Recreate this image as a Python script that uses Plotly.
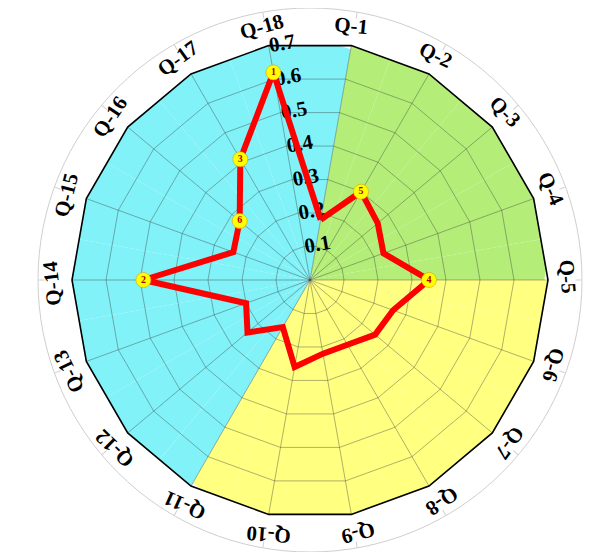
import math
import plotly.graph_objects as go

# ---------------- data ----------------
categories = [f"Q-{i}" for i in range(1, 19)]
values = [0.18, 0.30, 0.26, 0.23, 0.35, 0.26, 0.25, 0.22, 0.22,
          0.26, 0.16, 0.24, 0.20, 0.49, 0.24, 0.27, 0.41, 0.62]
rank_categories = ["Q-18", "Q-14", "Q-17", "Q-5", "Q-2", "Q-16"]
rank_labels = ["1", "2", "3", "4", "5", "6"]
radial_ticks = [0.1, 0.2, 0.3, 0.4, 0.5, 0.6, 0.7]
radial_tick_text = ["0.1", "0.2", "0.3", "0.4", "0.5", "0.6", "0.7"]
r_max = 0.7

# background sectors (category units): green Q-1..Q-5, yellow Q-5..Q-11, cyan Q-11..Q-1
green_theta = ["Q-1", "Q-2", "Q-3", "Q-4", "Q-5"]
green_width = [0.5, 1, 1, 1, 0.5]
green_offset = [0, -0.5, -0.5, -0.5, -0.5]
yellow_theta = ["Q-5", "Q-6", "Q-7", "Q-8", "Q-9", "Q-10", "Q-11"]
yellow_width = [0.5, 1, 1, 1, 1, 1, 0.5]
yellow_offset = [0, -0.5, -0.5, -0.5, -0.5, -0.5, -0.5]
cyan_theta = ["Q-11", "Q-12", "Q-13", "Q-14", "Q-15", "Q-16", "Q-17", "Q-18", "Q-1"]
cyan_width = [0.5, 1, 1, 1, 1, 1, 1, 1, 0.5]
cyan_offset = [0, -0.5, -0.5, -0.5, -0.5, -0.5, -0.5, -0.5, -0.5]

GREEN = "#B4EE78"
YELLOW = "#FFFF80"
CYAN = "#80F2F8"

serif = "Liberation Serif"
FS = 21  # font size of category labels

rank_values = [values[categories.index(c)] for c in rank_categories]

# geometry (pixels, figure coordinates; the page adds an 8px body margin)
W, H = 606, 552
cx, cy = 302, 272
R = 238          # polygon radius
R_OUT = 272      # outer ring radius
R_LAB = 257      # radius of the category label centres

fig = go.Figure()

# outer ring helper (categories for tick marks)
fig.add_trace(go.Scatterpolar(
    r=[0] * len(categories), theta=categories, subplot="polar",
    mode="markers", marker=dict(opacity=0), hoverinfo="skip", showlegend=False))

# coloured sectors
for th, w, off, col in [(green_theta, green_width, green_offset, GREEN),
                        (yellow_theta, yellow_width, yellow_offset, YELLOW),
                        (cyan_theta, cyan_width, cyan_offset, CYAN)]:
    fig.add_trace(go.Barpolar(
        r=[r_max] * len(th), theta=th, width=w, offset=off, subplot="polar2",
        marker=dict(color=col, line=dict(width=0)), hoverinfo="skip",
        showlegend=False))

# data line
fig.add_trace(go.Scatterpolar(
    r=values + values[:1], theta=categories + categories[:1], subplot="polar3",
    mode="lines", line=dict(color="#FF0000", width=6), hoverinfo="skip",
    showlegend=False))

# rank markers
fig.add_trace(go.Scatterpolar(
    r=rank_values, theta=rank_categories, subplot="polar3",
    mode="markers+text", text=rank_labels, textposition="middle center",
    textfont=dict(family=serif, size=10, color="#B00000", weight="bold"),
    marker=dict(size=15, color="#FFFF00", line=dict(width=0.6, color="#E0A000")),
    hoverinfo="skip", showlegend=False))

common_ang = dict(type="category", categoryorder="array", categoryarray=categories,
                  tickvals=categories, direction="clockwise", rotation=80)

inner_x = [(cx - R) / W, (cx + R) / W]
inner_y = [(H - cy - R) / H, (H - cy + R) / H]
outer_x = [(cx - R_OUT) / W, (cx + R_OUT) / W]
outer_y = [max(0, (H - cy - R_OUT) / H), min(1, (H - cy + R_OUT) / H)]

layout = dict(
    width=W, height=H,
    margin=dict(l=0, r=0, t=0, b=0),
    paper_bgcolor="white",
    showlegend=False,
    polar=dict(
        domain=dict(x=outer_x, y=outer_y),
        bgcolor="rgba(0,0,0,0)",
        gridshape="circular",
        angularaxis=dict(**common_ang, showline=True, linecolor="#CFCFCF", linewidth=1,
                         showgrid=False, ticks="inside", ticklen=6,
                         tickcolor="#CFCFCF", tickwidth=1, showticklabels=False),
        radialaxis=dict(visible=False, range=[0, 1]),
    ),
    polar2=dict(
        domain=dict(x=inner_x, y=inner_y),
        bgcolor="rgba(0,0,0,0)",
        gridshape="linear",
        barmode="overlay",
        angularaxis=dict(**common_ang, showline=False, showgrid=False, ticks="",
                         showticklabels=False),
        radialaxis=dict(visible=False, range=[0, r_max]),
    ),
    polar3=dict(
        domain=dict(x=inner_x, y=inner_y),
        bgcolor="rgba(0,0,0,0)",
        gridshape="linear",
        angularaxis=dict(**common_ang, showline=True, linecolor="black", linewidth=1.6,
                         showgrid=True, gridcolor="rgba(60,60,60,0.4)", gridwidth=0.8,
                         ticks="", showticklabels=False, layer="below traces"),
        radialaxis=dict(range=[0, r_max], tickvals=radial_ticks, ticktext=radial_tick_text,
                        angle=90, tickangle=90, showline=False, ticks="",
                        showgrid=True, gridcolor="rgba(60,60,60,0.4)", gridwidth=0.8,
                        tickfont=dict(family=serif, size=21, color="black", weight="bold"),
                        layer="below traces"),
    ),
)


# category labels written tangentially: one radial tick label per helper subplot
def label_width(txt):
    em = {"Q": 0.778, "-": 0.333}
    return FS * sum(em.get(ch, 0.5) for ch in txt)


STANDOFF = 4
n = len(categories)
for k, cat in enumerate(categories):
    sid = f"polar{k + 4}"
    theta_cw = 10 + 360 / n * k  # clockwise from north
    shift = math.degrees((STANDOFF + label_width(cat) / 2) / R_LAB)
    axis_cw = theta_cw - shift
    fig.add_trace(go.Scatterpolar(r=[0], theta=[0], subplot=sid, mode="markers",
                                  marker=dict(opacity=0), hoverinfo="skip",
                                  showlegend=False))
    layout[sid] = dict(
        domain=dict(x=outer_x, y=outer_y),
        bgcolor="rgba(0,0,0,0)",
        angularaxis=dict(visible=False),
        radialaxis=dict(range=[0, R_OUT], tickvals=[R_LAB], ticktext=[cat],
                        angle=90 - axis_cw, tickangle=90, showline=False,
                        showgrid=False, ticks="",
                        tickfont=dict(family=serif, size=FS, color="black",
                                      weight="bold")),
    )

fig.update_layout(**layout)
fig.write_html("out.html")
